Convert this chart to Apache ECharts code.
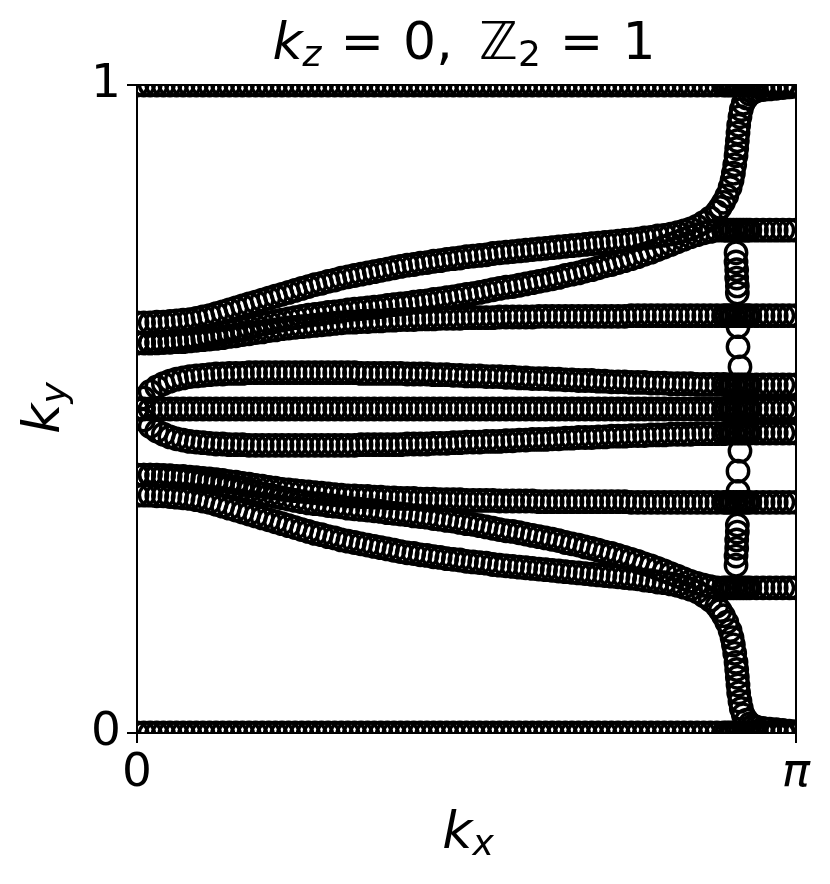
<!DOCTYPE html>
<html>
<head>
<meta charset="utf-8">
<script src="https://cdn.jsdelivr.net/npm/echarts@6/dist/echarts.min.js"></script>
<style>
html,body{margin:0;padding:0;background:#fff;}
#chart{width:830px;height:884px;}
</style>
</head>
<body>
<div id="chart"></div>
<script>
// ---- data (kx in units of pi, ky = Wannier centre) ----
const xTickLabels = ['0', 'π'];
const yTickLabels = ['0', '1'];

const kx = [
0.00,0.01,0.02,0.03,0.04,0.05,0.06,0.07,0.08,0.09,
0.10,0.11,0.12,0.13,0.14,0.15,0.16,0.17,0.18,0.19,
0.20,0.21,0.22,0.23,0.24,0.25,0.26,0.27,0.28,0.29,
0.30,0.31,0.32,0.33,0.34,0.35,0.36,0.37,0.38,0.39,
0.40,0.41,0.42,0.43,0.44,0.45,0.46,0.47,0.48,0.49,
0.50,0.51,0.52,0.53,0.54,0.55,0.56,0.57,0.58,0.59,
0.60,0.61,0.62,0.63,0.64,0.65,0.66,0.67,0.68,0.69,
0.70,0.71,0.72,0.73,0.74,0.75,0.76,0.77,0.78,0.79,
0.80,0.81,0.82,0.83,0.84,0.85,0.86,0.87,0.88,0.89,
0.90,0.91,0.92,0.93,0.94,0.95,0.96,0.97,0.98,0.99,
1.00];

// flat bands
const topLevel = 1;
const midLevel = 0.5;
const bottomLevel = 0;

// band A (upper, rising, j = 0..88), then its flow to 1
const bandA = [
0.633,0.633,0.633,0.634,0.634,0.635,0.636,0.637,0.638,0.640,
0.642,0.644,0.647,0.650,0.653,0.656,0.659,0.662,0.665,0.668,
0.671,0.674,0.677,0.680,0.683,0.686,0.689,0.692,0.694,0.697,
0.699,0.702,0.704,0.706,0.708,0.710,0.712,0.714,0.716,0.718,
0.720,0.722,0.723,0.725,0.726,0.728,0.729,0.731,0.732,0.733,
0.735,0.736,0.737,0.738,0.740,0.741,0.742,0.743,0.744,0.745,
0.746,0.747,0.748,0.749,0.750,0.751,0.752,0.753,0.754,0.755,
0.756,0.757,0.758,0.759,0.760,0.761,0.762,0.764,0.765,0.767,
0.768,0.770,0.772,0.775,0.778,0.782,0.788,0.795,0.804];
const flowAKx = [0.885,0.89,0.895,0.90,0.903,0.905,0.907,0.909,0.91,0.911,0.912,0.913,0.915,0.917,0.92,0.925,0.93,0.935,0.94,0.95,0.96,0.97,0.98,0.99,1.0];
const flowAKy = [0.811,0.819,0.829,0.842,0.853,0.864,0.877,0.891,0.902,0.914,0.926,0.938,0.951,0.962,0.972,0.980,0.986,0.989,0.991,0.993,0.994,0.995,0.996,0.997,0.998];

// band A' (lower, falling, j = 0..88), then its flow to 0
const bandAp = [
0.367,0.367,0.367,0.366,0.366,0.365,0.364,0.363,0.362,0.360,
0.358,0.356,0.353,0.350,0.347,0.344,0.341,0.338,0.335,0.332,
0.329,0.326,0.323,0.320,0.317,0.314,0.311,0.308,0.306,0.303,
0.301,0.298,0.296,0.294,0.292,0.290,0.288,0.286,0.284,0.282,
0.280,0.278,0.277,0.275,0.274,0.272,0.271,0.269,0.268,0.267,
0.265,0.264,0.263,0.262,0.260,0.259,0.258,0.257,0.256,0.255,
0.254,0.253,0.252,0.251,0.250,0.249,0.248,0.247,0.246,0.245,
0.244,0.243,0.242,0.241,0.240,0.239,0.238,0.236,0.235,0.233,
0.232,0.230,0.228,0.225,0.222,0.218,0.212,0.205,0.196];
const flowApKx = [0.885,0.89,0.895,0.90,0.903,0.905,0.907,0.909,0.91,0.911,0.912,0.913,0.915,0.917,0.92,0.925,0.93,0.935,0.94,0.95,0.96,0.97,0.98,0.99,1.0];
const flowApKy = [0.189,0.181,0.171,0.158,0.147,0.136,0.123,0.109,0.098,0.086,0.074,0.062,0.049,0.038,0.028,0.020,0.014,0.011,0.009,0.007,0.006,0.005,0.004,0.003,0.002];

const bandB = [
0.602,0.602,0.602,0.603,0.603,0.604,0.605,0.606,0.607,0.609,
0.611,0.613,0.615,0.617,0.619,0.621,0.623,0.626,0.628,0.631,
0.633,0.635,0.637,0.639,0.641,0.643,0.645,0.646,0.647,0.649,
0.650,0.651,0.653,0.654,0.655,0.656,0.657,0.658,0.660,0.661,
0.662,0.663,0.665,0.666,0.667,0.669,0.670,0.672,0.673,0.675,
0.677,0.678,0.680,0.682,0.684,0.686,0.688,0.689,0.691,0.693,
0.695,0.697,0.699,0.701,0.703,0.706,0.708,0.710,0.713,0.715,
0.718,0.721,0.723,0.726,0.729,0.732,0.735,0.739,0.742,0.746,
0.750,0.754,0.758,0.762,0.766,0.769,0.772,0.774,0.776,0.776,
0.776,0.776,0.776,0.776,0.776,0.776,0.776,0.776,0.776,0.776,
0.776];
const bandBp = [
0.398,0.398,0.398,0.397,0.397,0.396,0.395,0.394,0.393,0.391,
0.389,0.387,0.385,0.383,0.381,0.379,0.377,0.374,0.372,0.369,
0.367,0.365,0.363,0.361,0.359,0.357,0.355,0.354,0.353,0.351,
0.350,0.349,0.347,0.346,0.345,0.344,0.343,0.342,0.340,0.339,
0.338,0.337,0.335,0.334,0.333,0.331,0.330,0.328,0.327,0.325,
0.323,0.322,0.320,0.318,0.316,0.314,0.312,0.311,0.309,0.307,
0.305,0.303,0.301,0.299,0.297,0.294,0.292,0.290,0.287,0.285,
0.282,0.279,0.277,0.274,0.271,0.268,0.265,0.261,0.258,0.254,
0.250,0.246,0.242,0.238,0.234,0.231,0.228,0.226,0.224,0.224,
0.224,0.224,0.224,0.224,0.224,0.224,0.224,0.224,0.224,0.224,
0.224];
const bandC = [
0.602,0.602,0.602,0.602,0.603,0.603,0.604,0.604,0.605,0.606,
0.607,0.608,0.609,0.610,0.612,0.613,0.615,0.616,0.618,0.619,
0.621,0.622,0.624,0.625,0.626,0.627,0.628,0.629,0.630,0.631,
0.632,0.633,0.634,0.634,0.635,0.635,0.636,0.636,0.637,0.637,
0.638,0.638,0.638,0.639,0.639,0.639,0.640,0.640,0.640,0.640,
0.641,0.641,0.641,0.641,0.641,0.642,0.642,0.642,0.642,0.642,
0.642,0.643,0.643,0.643,0.643,0.643,0.643,0.643,0.643,0.643,
0.643,0.643,0.643,0.643,0.643,0.644,0.644,0.644,0.644,0.644,
0.644,0.644,0.644,0.644,0.644,0.644,0.644,0.644,0.644,0.644,
0.644,0.644,0.644,0.644,0.644,0.644,0.644,0.644,0.644,0.644,
0.644];
const bandCp = [
0.398,0.398,0.398,0.398,0.397,0.397,0.396,0.396,0.395,0.394,
0.393,0.392,0.391,0.390,0.388,0.387,0.385,0.384,0.382,0.381,
0.379,0.378,0.376,0.375,0.374,0.373,0.372,0.371,0.370,0.369,
0.368,0.367,0.366,0.366,0.365,0.365,0.364,0.364,0.363,0.363,
0.362,0.362,0.362,0.361,0.361,0.361,0.360,0.360,0.360,0.360,
0.359,0.359,0.359,0.359,0.359,0.358,0.358,0.358,0.358,0.358,
0.358,0.357,0.357,0.357,0.357,0.357,0.357,0.357,0.357,0.357,
0.357,0.357,0.357,0.357,0.357,0.356,0.356,0.356,0.356,0.356,
0.356,0.356,0.356,0.356,0.356,0.356,0.356,0.356,0.356,0.356,
0.356,0.356,0.356,0.356,0.356,0.356,0.356,0.356,0.356,0.356,
0.356];
const lensTop = [
0.500,0.517,0.527,0.534,0.539,0.543,0.546,0.548,0.550,0.551,
0.552,0.553,0.554,0.554,0.555,0.555,0.555,0.556,0.556,0.556,
0.556,0.556,0.556,0.556,0.556,0.556,0.556,0.556,0.556,0.556,
0.556,0.556,0.556,0.556,0.555,0.555,0.555,0.555,0.555,0.555,
0.555,0.554,0.554,0.554,0.554,0.553,0.553,0.553,0.552,0.552,
0.551,0.551,0.551,0.550,0.550,0.550,0.549,0.549,0.548,0.548,
0.547,0.547,0.547,0.546,0.546,0.545,0.545,0.544,0.544,0.544,
0.543,0.543,0.542,0.542,0.542,0.541,0.541,0.541,0.540,0.540,
0.540,0.539,0.539,0.539,0.539,0.538,0.538,0.538,0.538,0.538,
0.537,0.537,0.537,0.537,0.537,0.537,0.537,0.537,0.537,0.537,
0.537];
const lensBottom = [
0.500,0.483,0.473,0.466,0.461,0.457,0.454,0.452,0.450,0.449,
0.448,0.447,0.446,0.446,0.445,0.445,0.445,0.444,0.444,0.444,
0.444,0.444,0.444,0.444,0.444,0.444,0.444,0.444,0.444,0.444,
0.444,0.444,0.444,0.444,0.445,0.445,0.445,0.445,0.445,0.445,
0.445,0.446,0.446,0.446,0.446,0.447,0.447,0.447,0.448,0.448,
0.449,0.449,0.449,0.450,0.450,0.450,0.451,0.451,0.452,0.452,
0.453,0.453,0.453,0.454,0.454,0.455,0.455,0.456,0.456,0.456,
0.457,0.457,0.458,0.458,0.458,0.459,0.459,0.459,0.460,0.460,
0.460,0.461,0.461,0.461,0.461,0.462,0.462,0.462,0.462,0.462,
0.463,0.463,0.463,0.463,0.463,0.463,0.463,0.463,0.463,0.463,
0.463];

// points in transit at the near-closing of the gap
const transitKx = [0.909,0.909,0.910,0.910,0.911,0.911,0.912,0.912,0.915,0.915,0.912,0.912,0.911,0.911,0.910,0.910,0.909,0.909];
const transitKy = [0.741,0.727,0.715,0.702,0.690,0.679,0.627,0.596,0.565,0.435,0.404,0.373,0.321,0.310,0.298,0.285,0.273,0.259];

// extra fine kx samples near the crossing, flat levels there
const fineKx = [0.895,0.905,0.915,0.925];
const fineLevels = [1,0.776,0.644,0.537,0.5,0.463,0.356,0.224,0];

// ---- build ----
const FONT = '"DejaVu Sans", "Liberation Sans", sans-serif';
const pairs = (xs, ys) => ys.map((y, i) => [xs[i], y]);
const flat = (lvl) => kx.map(x => [x, lvl]);

const bands = [
  flat(topLevel), flat(midLevel), flat(bottomLevel),
  pairs(kx, bandA).concat(pairs(flowAKx, flowAKy)),
  pairs(kx, bandAp).concat(pairs(flowApKx, flowApKy)),
  pairs(kx, bandB), pairs(kx, bandBp),
  pairs(kx, bandC), pairs(kx, bandCp),
  pairs(kx, lensTop), pairs(kx, lensBottom),
  pairs(transitKx, transitKy)
];
const fineData = [];
fineKx.forEach(x => fineLevels.forEach(l => fineData.push([x, l])));
bands.push(fineData);

function renderRing(params, api) {
  const p = api.coord([api.value(0), api.value(1)]);
  return {
    type: 'circle',
    shape: { cx: p[0], cy: p[1], r: 10.7 },
    style: { fill: 'none', stroke: '#000', lineWidth: 3.4 }
  };
}

const series = bands.map((d, i) => ({
  type: 'custom',
  name: 'band' + i,
  xAxisIndex: 0, yAxisIndex: 0,
  clip: true,
  renderItem: renderRing,
  data: d,
  animation: false,
  silent: true
}));

const chart = echarts.init(document.getElementById('chart'), null, { renderer: 'canvas' });
const axisLineStyle = { color: '#000', width: 2 };
const big = 52, sub = 36;
const subPad = [24, 0, 0, 0];

chart.setOption({
  animation: false,
  backgroundColor: '#fff',
  grid: { left: 137, top: 85, width: 659, height: 648, containLabel: false },
  xAxis: [{
    type: 'value', min: 0, max: 1, interval: 1, position: 'bottom',
    axisLine: { show: true, onZero: false, lineStyle: axisLineStyle },
    axisTick: { show: true, length: 10, lineStyle: { color: '#000', width: 2 } },
    splitLine: { show: false },
    axisLabel: {
      margin: 17, color: '#000', fontSize: 47, fontFamily: FONT,
      formatter: v => v === 0 ? xTickLabels[0] : '{i|' + xTickLabels[1] + '}',
      rich: { i: { fontSize: 47, fontFamily: FONT, fontStyle: 'italic', color: '#000' } }
    }
  }, {
    type: 'value', min: 0, max: 1, position: 'top',
    axisLine: { show: true, onZero: false, lineStyle: axisLineStyle },
    axisTick: { show: false }, axisLabel: { show: false }, splitLine: { show: false }
  }],
  yAxis: [{
    type: 'value', min: 0, max: 1, interval: 1, position: 'left',
    axisLine: { show: true, onZero: false, lineStyle: axisLineStyle },
    axisTick: { show: true, length: 10, lineStyle: { color: '#000', width: 2 } },
    splitLine: { show: false },
    axisLabel: {
      margin: 16, color: '#000', fontSize: 47, fontFamily: FONT,
      formatter: v => yTickLabels[Math.round(v)]
    }
  }, {
    type: 'value', min: 0, max: 1, position: 'right',
    axisLine: { show: true, onZero: false, lineStyle: axisLineStyle },
    axisTick: { show: false }, axisLabel: { show: false }, splitLine: { show: false }
  }],
  graphic: [
    {
      type: 'text', x: 464, y: 45, z: 10,
      style: {
        text: '{i|k}{si|z}{eq|=}{n|0,}{sp| }{n|ℤ}{s|2}{eq|=}{n|1}',
        align: 'center', verticalAlign: 'middle', fill: '#000',
        rich: {
          i: { fontSize: big, fontFamily: FONT, fontStyle: 'italic', lineHeight: 60, fill: '#000' },
          n: { fontSize: big, fontFamily: FONT, lineHeight: 60, fill: '#000' },
          sp: { fontSize: big, fontFamily: FONT, lineHeight: 60, padding: [0, 6, 0, 4], fill: '#000' },
          eq: { fontSize: big, fontFamily: FONT, lineHeight: 60, padding: [0, 19, 0, 19], fill: '#000' },
          si: { fontSize: sub, fontFamily: FONT, fontStyle: 'italic', lineHeight: 32, padding: subPad, fill: '#000' },
          s: { fontSize: sub, fontFamily: FONT, lineHeight: 32, padding: subPad, fill: '#000' }
        }
      }
    },
    {
      type: 'text', x: 468, y: 834, z: 10,
      style: {
        text: '{i|k}{s|x}', align: 'center', verticalAlign: 'middle', fill: '#000',
        rich: {
          i: { fontSize: big, fontFamily: FONT, fontStyle: 'italic', lineHeight: 60, fill: '#000' },
          s: { fontSize: sub, fontFamily: FONT, fontStyle: 'italic', lineHeight: 32, padding: subPad, fill: '#000' }
        }
      }
    },
    {
      type: 'text', x: 45, y: 408, rotation: Math.PI / 2, z: 10,
      style: {
        text: '{i|k}{s|y}', align: 'center', verticalAlign: 'middle', fill: '#000',
        rich: {
          i: { fontSize: big, fontFamily: FONT, fontStyle: 'italic', lineHeight: 60, fill: '#000' },
          s: { fontSize: sub, fontFamily: FONT, fontStyle: 'italic', lineHeight: 32, padding: subPad, fill: '#000' }
        }
      }
    }
  ],
  series: series
});
</script>
</body>
</html>
